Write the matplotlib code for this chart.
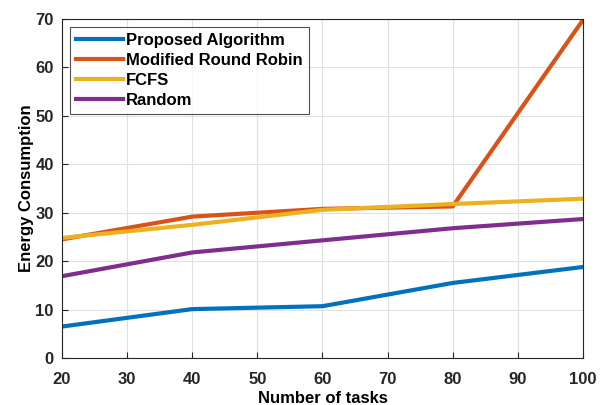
import numpy as np
import matplotlib.pyplot as plt

plt.rcParams['font.family'] = ['Liberation Sans', 'DejaVu Sans']
plt.rcParams['font.weight'] = 'bold'

tasks = [20, 40, 60, 80, 100]
proposed = [6.5, 10.1, 10.7, 15.5, 18.8]
mrr = [24.5, 29.2, 30.8, 31.3, 69.8]
fcfs = [24.8, 27.5, 30.6, 31.8, 32.9]
rand = [16.9, 21.8, 24.3, 26.8, 28.7]

labels = ['Proposed Algorithm', 'Modified Round Robin', 'FCFS', 'Random']
colors = ['#0072BD', '#D95319', '#EDB120', '#7E2F8E']

fig = plt.figure(figsize=(6.05, 4.05), dpi=100)
ax = fig.add_axes([0.1025, 0.116, 0.861, 0.837])

for ys, lab, c in zip([proposed, mrr, fcfs, rand], labels, colors):
    ax.plot(tasks, ys, color=c, linewidth=3, label=lab)

ax.set_xlim(20, 100)
ax.set_ylim(0, 70)
ax.set_xticks(np.arange(20, 101, 10))
ax.set_yticks(np.arange(0, 71, 10))
ax.grid(True, color='#e0e0e0', linewidth=0.8)
ax.set_axisbelow(True)
ax.tick_params(direction='in', labelsize=12, colors='#262626', length=4)
ax.tick_params(axis='x', pad=10)
ax.tick_params(axis='y', pad=6)
for s in ax.spines.values():
    s.set_color('#262626')
    s.set_linewidth(0.8)
ax.set_xlabel('Number of tasks', fontsize=12, fontweight='bold', labelpad=3)
ax.set_ylabel('Energy Consumption', fontsize=12, fontweight='bold', labelpad=1)

leg = ax.legend(loc='upper left', fontsize=12, handlelength=2.8, handletextpad=0.2,
                labelspacing=0.3, borderpad=0.35, fancybox=False, edgecolor='#262626',
                borderaxespad=0.5)
leg.get_frame().set_linewidth(0.8)

fig.savefig('out.png', dpi=100)
